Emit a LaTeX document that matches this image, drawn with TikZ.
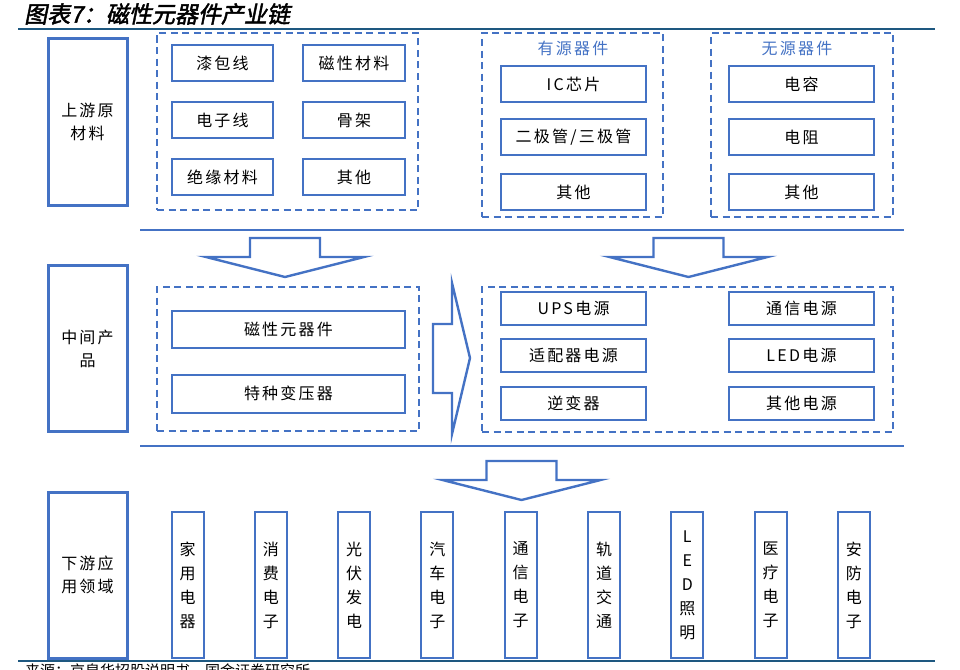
\documentclass[tikz,border=0pt]{standalone}
\usepackage{fontspec}
\setmainfont{Noto Sans CJK SC}
\newfontfamily\cjk[LetterSpace=14]{Noto Sans CJK SC}
\newfontfamily\titlefont[FakeSlant=0.2,FakeBold=2]{Noto Sans CJK SC}
\usetikzlibrary{positioning}
\definecolor{boxblue}{RGB}{68,114,196}
\definecolor{ruleblue}{RGB}{30,88,128}
\tikzset{
	stage/.style={draw=boxblue,line width=3pt,minimum width=79,minimum height=166,align=center,font=\cjk\fontsize{16}{23}\selectfont},
	group/.style={draw=boxblue,line width=2.4pt,dash pattern=on 7pt off 4.5pt},
	grouptitle/.style={text=boxblue,inner sep=0,font=\cjk\fontsize{16}{16}\selectfont},
	item/.style={draw=boxblue,line width=2pt,minimum height=36,inner sep=0,font=\cjk\fontsize{16}{16}\selectfont},
	field/.style={draw=boxblue,line width=2pt,minimum width=32,minimum height=146,inner sep=0,align=center,font=\fontsize{16}{24}\selectfont},
	blockarrow/.style={draw=boxblue,line width=2.4pt,line join=miter},
	sepline/.style={boxblue,line width=2.4pt},
	ruleline/.style={ruleblue,line width=2pt}
}
\begin{document}
\begin{tikzpicture}[x=1pt,y=-1pt]
	\useasboundingbox (0,0) rectangle (960,669);
	\clip (0,0) rectangle (960,669);
	% title, rules and source
	\node[anchor=west,inner sep=0,font=\titlefont\fontsize{23}{23}\selectfont] (title) at (24,14) {图表7：磁性元器件产业链};
	\coordinate (topl) at (18,29); \coordinate (topr) at (935,29);
	\coordinate (botl) at (18,661); \coordinate (botr) at (935,661);
	\draw[ruleline] (topl) -- (topr);
	\draw[ruleline] (botl) -- (botr);
	\node[anchor=base west,inner sep=0,font=\fontsize{15}{15}\selectfont] (src) at (25,676) {来源：京泉华招股说明书，国金证券研究所};
	% stages
	\node[stage] (up) at (87.5,122) {上游原\\材料};
	\node[stage] (mid) at (87.5,348.5) {中间产\\品};
	\node[stage] (down) at (87.5,575) {下游应\\用领域};
	% upstream
	\node[group,minimum width=261,minimum height=177] (raw) at (287.5,121.5) {};
	\foreach \y/\l/\r [count=\n] in {63/漆包线/磁性材料, 120/电子线/骨架, 177/绝缘材料/其他}{
		\node[item,minimum width=101] (rawl\n) at (222.5,\y) {\l};
		\node[item,minimum width=102] (rawr\n) at (354,\y) {\r};
	}
	\node[group,minimum width=181,minimum height=184] (active) at (572.5,125) {};
	\node[grouptitle] (activet) at (573,48) {有源器件};
	\foreach \y/\t [count=\n] in {84/IC芯片, 137/{二极管/三极管}, 192/其他}
		\node[item,minimum width=145] (act\n) at (573.5,\y) {\t};
	\node[group,minimum width=182,minimum height=184] (passive) at (802,125) {};
	\node[grouptitle] (passivet) at (797,48) {无源器件};
	\foreach \y/\t [count=\n] in {84/电容, 137/电阻, 192/其他}
		\node[item,minimum width=145] (pas\n) at (801.5,\y) {\t};
	% separators
	\coordinate (sepa) at (140,230); \coordinate (sepb) at (904,230);
	\coordinate (sepc) at (140,446); \coordinate (sepd) at (904,446);
	\draw[sepline] (sepa) -- (sepb);
	\draw[sepline] (sepc) -- (sepd);
	% arrows
	\foreach \cx/\ty in {285/238, 688.5/238, 521.5/461}
		\draw[blockarrow] ({\cx-35},\ty) -- ({\cx+35},\ty) -- ({\cx+35},\ty+19) -- ({\cx+79},\ty+19) -- (\cx,\ty+39) -- ({\cx-79},\ty+19) -- ({\cx-35},\ty+19) -- cycle;
	\draw[blockarrow] (433,324) -- (452,324) -- (452,283) -- (470,358) -- (452,434) -- (452,393) -- (433,393) -- cycle;
	% middle
	\node[group,minimum width=262,minimum height=144] (magn) at (288,359) {};
	\node[item,minimum width=233,minimum height=37] (comp) at (288.5,329.5) {磁性元器件};
	\node[item,minimum width=233,minimum height=38] (trans) at (288.5,393.5) {特种变压器};
	\node[group,minimum width=411,minimum height=145] (power) at (687.5,359.5) {};
	\foreach \y/\l/\r [count=\n] in {308.5/UPS电源/通信电源, 355.5/适配器电源/LED电源, 403/逆变器/其他电源}{
		\node[item,minimum width=145,minimum height=33] (pwl\n) at (573.5,\y) {\l};
		\node[item,minimum width=145,minimum height=33] (pwr\n) at (801.5,\y) {\r};
	}
	% downstream
	\foreach \t [count=\n] in {家\\用\\电\\器, 消\\费\\电\\子, 光\\伏\\发\\电, 汽\\车\\电\\子, 通\\信\\电\\子, 轨\\道\\交\\通, L\\E\\D\\照\\明, 医\\疗\\电\\子, 安\\防\\电\\子}
		\node[field] (app\n) at ({187.5+83.3*(\n-1)},585) {\t};
\end{tikzpicture}
\end{document}
